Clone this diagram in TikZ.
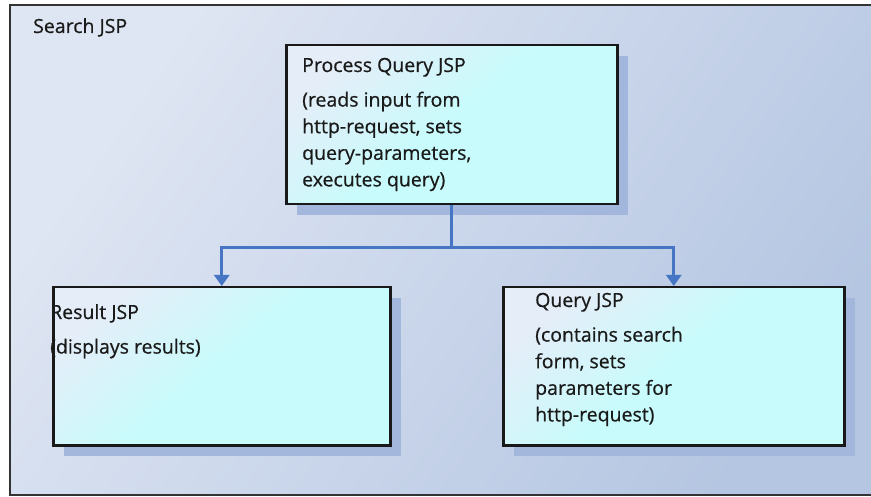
\documentclass[tikz,border=0pt]{standalone}
\usepackage{fontspec}
\setmainfont{Open Sans}
\usetikzlibrary{arrows.meta,shadows}
\definecolor{bgA}{HTML}{DFE6F3}
\definecolor{bgB}{HTML}{B5C6E2}
\definecolor{boxA}{HTML}{E4EDF8}
\definecolor{boxB}{HTML}{C8FCFC}
\definecolor{shadowc}{HTML}{A3B7DD}
\definecolor{arrowc}{HTML}{4675C4}
\definecolor{txtc}{HTML}{1A1A1A}
\newcommand{\boxtext}[2]{\parbox[t]{320pt}{\raggedright\fontsize{19.5}{26.6}\selectfont #1\par\vspace{8pt}#2}}
\tikzset{
  jspbox/.style={draw=black!90, line width=2.5pt, rectangle, anchor=north west, inner sep=0pt,
    top color=boxA, bottom color=boxB, middle color=boxB, shading angle=40,
    drop shadow={shadow xshift=11pt, shadow yshift=-11pt, fill=shadowc, opacity=1}},
  txt/.style={anchor=base west, inner sep=0pt, text=txtc, font=\fontsize{19.5}{26.6}\selectfont\addfontfeatures{FakeBold=0.6}},
  conn/.style={draw=arrowc, line width=3pt},
  tip/.style={-{Triangle[width=15pt,length=11pt]}}
}
\begin{document}
\begin{tikzpicture}[x=1pt,y=-1pt]
\useasboundingbox (0,0) rectangle (871,497);
\clip (0,0) rectangle (871,497);
\fill[white] (0,0) rectangle (871,497);
\shade[top color=bgA, bottom color=bgB, shading angle=55] (10,5) rectangle (890,495);
\draw[draw=black!80, line width=2.5pt] (890,5) -- (10,5) -- (10,495) -- (890,495);
\node[txt] (outer) at (33,33) {Search JSP};

\node[jspbox, minimum width=331pt, minimum height=159pt] (pq) at (285,44) {};
\node[jspbox, minimum width=337pt, minimum height=158pt] (res) at (52,286) {};
\node[jspbox, minimum width=341pt, minimum height=158pt] (qry) at (502,286) {};

\node[txt] (pqt) at (302,72) {\boxtext{Process Query JSP}{(reads input from\\http-request, sets\\query-parameters,\\executes query)}};
\node[txt] (rest) at (50,319) {\boxtext{Result JSP}{(displays results)}};
\node[txt] (qryt) at (535,307) {\boxtext{Query JSP}{(contains search\\form, sets\\parameters for\\http-request)}};

\coordinate (split) at (pq.south |- 0,248);
\draw[conn] (pq.south) -- (split);
\draw[conn, tip] (split) -| (res.north);
\draw[conn, tip] (split) -| (qry.north);
\end{tikzpicture}
\end{document}
